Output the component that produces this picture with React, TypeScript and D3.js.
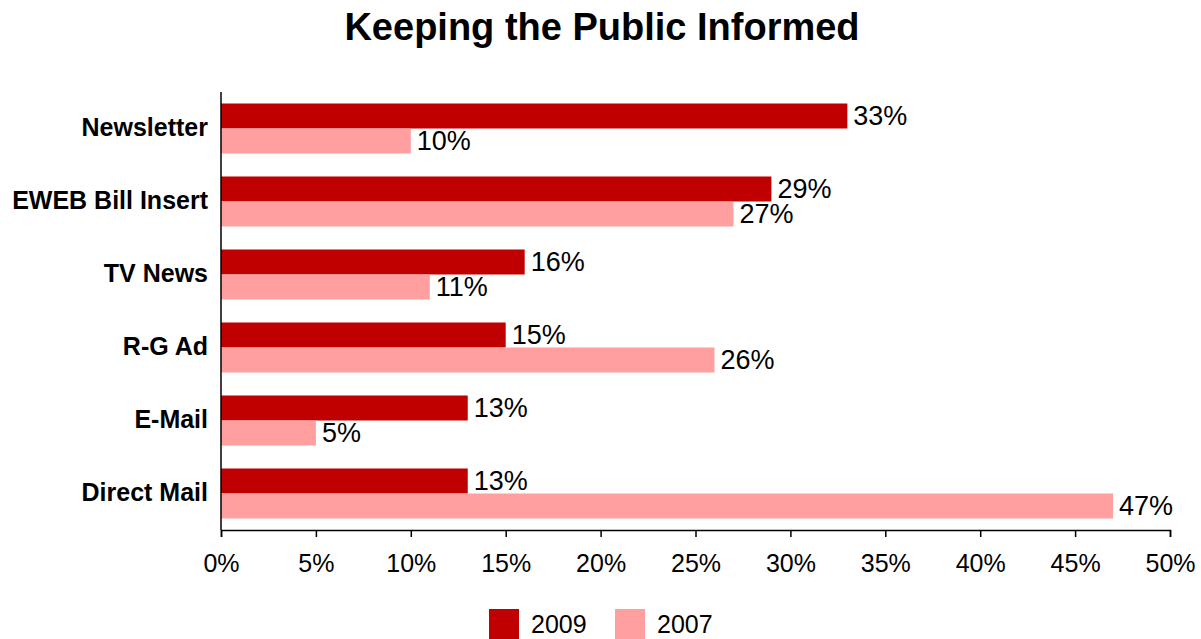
import React, { useEffect, useRef } from 'react';
import * as d3 from 'd3';

const categories = ['Newsletter', 'EWEB Bill Insert', 'TV News', 'R-G Ad', 'E-Mail', 'Direct Mail'];
const values2009 = [33, 29, 16, 15, 13, 13];
const values2007 = [10, 27, 11, 26, 5, 47];
const seriesNames = ['2009', '2007'];
const seriesColors = ['#C00000', '#FF9F9F'];
const xTicks = [0, 5, 10, 15, 20, 25, 30, 35, 40, 45, 50];

export default function App() {
  const svgRef = useRef<SVGSVGElement>(null);

  useEffect(() => {
    if (!svgRef.current) return;
    const width = 1201;
    const height = 639;
    const margin = { top: 92, right: 31, bottom: 109, left: 221 };
    const innerW = width - margin.left - margin.right;
    const innerH = height - margin.top - margin.bottom;
    const font = 'Liberation Sans, Arial, sans-serif';

    d3.select(svgRef.current).selectAll('*').remove();
    const root = d3.select(svgRef.current)
      .attr('width', width)
      .attr('height', height)
      .style('font-family', font);

    root.append('rect').attr('width', width).attr('height', height).attr('fill', '#fff');

    // Title
    root.append('text')
      .attr('x', 602)
      .attr('y', 40)
      .attr('text-anchor', 'middle')
      .style('font-size', '38px')
      .style('font-weight', 'bold')
      .text('Keeping the Public Informed');

    const svg = root.append('g').attr('transform', `translate(${margin.left},${margin.top})`);

    const x = d3.scaleLinear().domain([0, 50]).range([0, innerW]);
    const y = d3.scaleBand().domain(categories).range([0, innerH]).paddingInner(0.315).paddingOuter(0.1575);
    const sub = d3.scaleBand().domain(seriesNames).range([0, y.bandwidth()]);

    const rows = categories.map((c, i) => ({ cat: c, vals: [values2009[i], values2007[i]] }));

    const groups = svg.selectAll('.grp')
      .data(rows)
      .enter()
      .append('g')
      .attr('transform', d => `translate(0,${y(d.cat)})`);

    groups.selectAll('rect')
      .data(d => d.vals.map((v, k) => ({ v, k })))
      .enter()
      .append('rect')
      .attr('x', 0)
      .attr('y', d => sub(seriesNames[d.k]) as number)
      .attr('width', d => x(d.v))
      .attr('height', sub.bandwidth())
      .attr('fill', d => seriesColors[d.k]);

    groups.selectAll('text.val')
      .data(d => d.vals.map((v, k) => ({ v, k })))
      .enter()
      .append('text')
      .attr('class', 'val')
      .attr('x', d => x(d.v) + 6)
      .attr('y', d => (sub(seriesNames[d.k]) as number) + sub.bandwidth() / 2)
      .attr('dy', '0.33em')
      .style('font-size', '27px')
      .text(d => `${d.v}%`);

    // Axes
    const xAxis = svg.append('g')
      .attr('transform', `translate(0,${innerH})`)
      .call(d3.axisBottom(x).tickValues(xTicks).tickSize(7).tickSizeOuter(7).tickPadding(17).tickFormat(d => `${d}%`));
    xAxis.select('.domain').attr('stroke', '#000').attr('stroke-width', 1.5);
    xAxis.selectAll('.tick line').attr('stroke', '#000').attr('stroke-width', 1.5);
    xAxis.selectAll('.tick text')
      .attr('fill', '#000')
      .style('font-size', '25px')
      .style('font-family', font);

    svg.append('line')
      .attr('x1', 0).attr('x2', 0)
      .attr('y1', 0).attr('y2', innerH)
      .attr('stroke', '#000').attr('stroke-width', 1.5);

    svg.selectAll('.cat')
      .data(categories)
      .enter()
      .append('text')
      .attr('x', -13)
      .attr('y', d => (y(d) as number) + y.bandwidth() / 2)
      .attr('dy', '0.3em')
      .attr('text-anchor', 'end')
      .style('font-size', '25px')
      .style('font-weight', 'bold')
      .text(d => d);

    // Legend
    const legendX = [489, 615];
    seriesNames.forEach((s, i) => {
      root.append('rect')
        .attr('x', legendX[i])
        .attr('y', 609)
        .attr('width', 30)
        .attr('height', 30)
        .attr('fill', seriesColors[i]);
      root.append('text')
        .attr('x', legendX[i] + 42)
        .attr('y', 633)
        .style('font-size', '25px')
        .text(s);
    });
  }, []);

  return <svg ref={svgRef} style={{ position: 'absolute', left: 0, top: 0 }}></svg>;
}
